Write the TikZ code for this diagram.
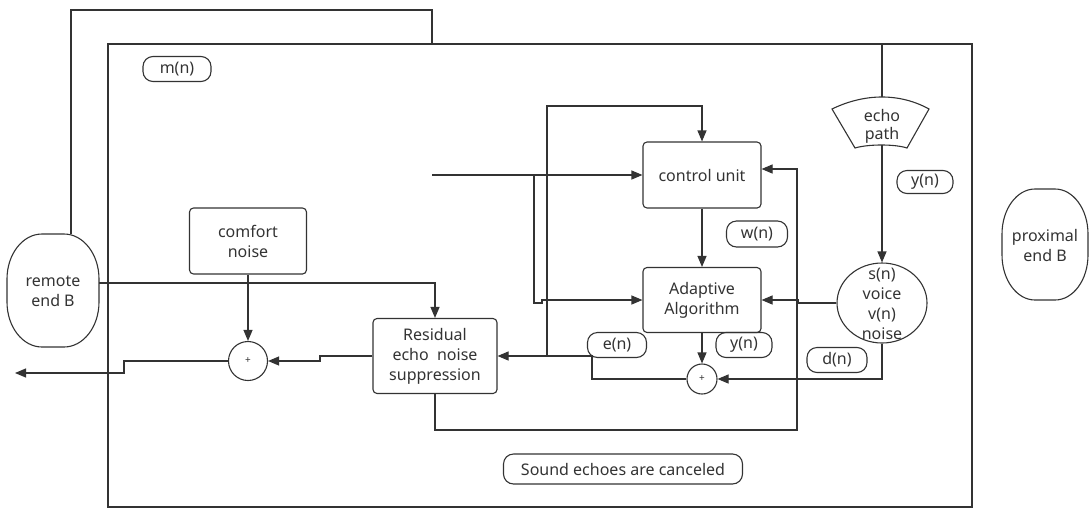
\documentclass[tikz,border=0pt]{standalone}
\usepackage{fontspec}
\setmainfont{Noto Sans}
\usetikzlibrary{arrows.meta,shapes.geometric}

\tikzset{
  line/.style={draw=black!80, line width=1.1pt},
  arr/.style={line, -{Triangle[length=11pt,width=9pt]}},
  block/.style={line, rounded corners=4pt, align=center, inner sep=0pt},
  tag/.style={line, rounded corners=10pt, inner sep=0pt, minimum height=25pt},
  sum/.style={line, circle, inner sep=0pt, font=\fontsize{10}{10}\selectfont},
}

\begin{document}
\begin{tikzpicture}[x=1pt, y=-1pt, font=\fontsize{16}{20}\selectfont, text=black!80]
        \useasboundingbox (0,0) rectangle (1089,512);

        % Near-end room
        \draw[line] (108,44) rectangle (972,507);

        % Terminals
        \draw[line] (42,234) -- (64,234) arc[start angle=-90, end angle=0, x radius=35, y radius=45]
            -- (99,302) arc[start angle=0, end angle=90, x radius=35, y radius=45]
            -- (42,347) arc[start angle=90, end angle=180, x radius=35, y radius=45]
            -- (7,279) arc[start angle=180, end angle=270, x radius=35, y radius=45] -- cycle;
        \node[align=center, inner sep=0pt] (remote) at (53,291) {remote\\end B};
        \draw[line] (1035,189) -- (1055,189) arc[start angle=-90, end angle=0, x radius=33, y radius=45]
            -- (1088,255) arc[start angle=0, end angle=90, x radius=33, y radius=45]
            -- (1035,300) arc[start angle=90, end angle=180, x radius=33, y radius=45]
            -- (1002,234) arc[start angle=180, end angle=270, x radius=33, y radius=45] -- cycle;
        \node[align=center, inner sep=0pt] (prox) at (1045,245) {proximal\\end B};

        % Echo path
        \draw[line] (832,109) .. controls (865,93) and (900,93) .. (929,109) -- (907,148)
            .. controls (895,144) and (868,144) .. (855,148) -- cycle;
        \node[align=center, inner sep=0pt, font=\fontsize{16}{18}\selectfont] (echo) at (882,126) {echo\\path};
        \coordinate (echotop) at (882,97);
        \coordinate (echobot) at (882,145);

        % Blocks
        \node[block, minimum width=118pt, minimum height=66pt] (ctrl) at (702,175) {control unit};
        \node[block, minimum width=118pt, minimum height=65pt] (adapt) at (702,300) {Adaptive\\Algorithm};
        \node[block, minimum width=124pt, minimum height=75pt] (res) at (435,356) {Residual\\echo~~noise\\suppression};
        \node[block, minimum width=117pt, minimum height=66pt] (comfort) at (248,241) {comfort\\noise};
        \node[sum, minimum size=39pt] (plusa) at (248,361) {+};
        \node[sum, minimum size=30pt] (plusb) at (702,379) {+};
        \node[line, ellipse, minimum width=90pt, minimum height=80pt] (voice) at (882,303) {};
        \node[align=center, inner sep=0pt] (voicetext) at (882,304) {s(n)\\voice\\v(n)\\noise};

        % Signal labels
        \node[tag, minimum width=68pt] (mn) at (177,69) {m(n)};
        \node[tag, minimum width=61pt, minimum height=26pt] (wn) at (757,234) {w(n)};
        \node[tag, minimum width=56pt, minimum height=23pt] (yna) at (925,182) {y(n)};
        \node[tag, minimum width=59pt] (en) at (617,345) {e(n)};
        \node[tag, minimum width=56pt] (ynb) at (744,345) {y(n)};
        \node[tag, minimum width=60pt] (dn) at (837,360) {d(n)};
        \node[tag, minimum width=239pt, minimum height=30pt] (note) at (623,469) {Sound echoes are canceled};

        % Loose ends
        \coordinate (remtop) at (71,234);
        \coordinate (remright) at (99,283);
        \coordinate (out) at (15,373);
        \coordinate (in) at (432,175);

        % Far-end path
        \draw[line] (remtop) -- (71,10) -- (432,10) -- (432,44);
        \draw[arr] (remright) -| (res.north);
        \draw[arr] (comfort) -- (plusa);
        \draw[arr] (res.west) -- (320,356) -- (320,361) -- (plusa);
        \draw[arr] (plusa) -- (124,361) -- (124,373) -- (out);
        \draw[arr] (res.south) -- (435,430) -- (797,430) -- (797,169) -- ([yshift=6pt]ctrl.east);

        % Canceller
        \draw[arr] (in) -- (ctrl.west);
        \draw[arr] (534,175) -- (534,303) -- (542,303) -- (542,300) -- (adapt.west);
        \draw[arr] (547,356) -- (547,106) -- (702,106) -- (ctrl.north);
        \draw[arr] (ctrl) -- (adapt);
        \draw[arr] (adapt) -- (plusb);
        \draw[arr] (plusb) -- (592,379) -- (592,356) -- (res.east);
        \draw[arr] (voice.south) -- (882,379) -- (plusb);
        \draw[arr] (voice.west) -- (798,303) -- (798,300) -- (adapt.east);

        % Echo
        \draw[line] (echotop) -- (882,44);
        \draw[arr] (echobot) -- (voice.north);
\end{tikzpicture}
\end{document}
